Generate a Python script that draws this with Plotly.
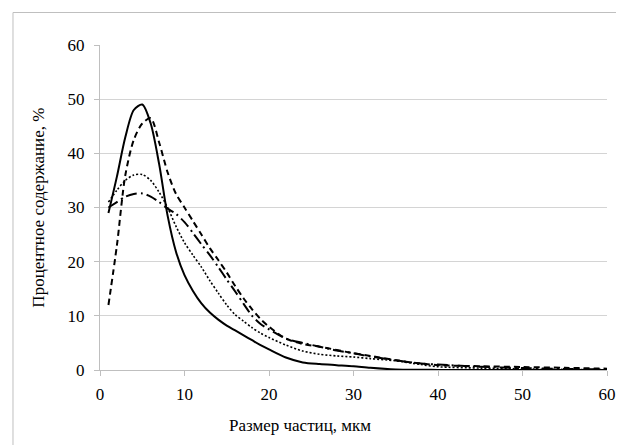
import plotly.graph_objects as go

# particle size, um
size_um = [1, 2, 3, 4, 5, 6, 7, 8, 9, 10, 11, 12, 13, 14, 15, 16, 17, 18, 19, 20,
           22, 24, 26, 28, 30, 32, 35, 38, 40, 45, 50, 55, 60]

solid_pct = [29, 35.7, 43, 48, 49, 45.5, 38, 28.5, 21.8, 17.5, 14.6, 12.3, 10.6, 9.3, 8.2, 7.3,
             6.4, 5.5, 4.6, 3.8, 2.3, 1.4, 1.1, 0.9, 0.7, 0.4, 0.1, 0.05, 0.02, 0, 0, 0, 0]

dashed_pct = [12, 23, 36, 42.5, 45.5, 46.5, 42, 36.5, 32.5, 30, 27.5, 25, 22.5, 20.3, 18, 15.5,
              13.2, 11.2, 9.4, 8.0, 5.8, 4.8, 4.3, 3.7, 3.1, 2.6, 1.8, 1.2, 0.9, 0.7, 0.55, 0.4, 0.25]

dotted_pct = [31, 33.2, 35, 36, 36.1, 35, 32.8, 30, 26.5, 23.5, 21.2, 19, 16.5, 14.2, 12, 10.2,
              9.0, 7.8, 6.8, 6.0, 4.6, 3.5, 2.9, 2.6, 2.4, 2.1, 1.7, 1.0, 0.6, 0.35, 0.2, 0.1, 0.05]

dashdot_pct = [30, 31, 32, 32.5, 32.6, 32, 31, 29.8, 28.8, 27.3, 25.3, 23.2, 21.2, 19, 16.7, 14.5,
               12.2, 10, 8.5, 7.5, 5.8, 5.0, 4.3, 3.6, 3.1, 2.5, 1.8, 1.2, 1.0, 0.6, 0.35, 0.2, 0.1]

y_ticks = [0, 10, 20, 30, 40, 50, 60]
x_ticks = [0, 10, 20, 30, 40, 50, 60]
x_title = "Размер частиц, мкм"
y_title = "Процентное содержание, %"

FONT = "Liberation Serif"

fig = go.Figure()
series = [
    (solid_pct, "solid", 2.0),
    (dashed_pct, "6px,4px", 2.0),
    (dotted_pct, "2px,2px", 1.6),
    (dashdot_pct, "11px,4px,2px,4px", 2.0),
]
for vals, dash, w in series:
    fig.add_trace(go.Scatter(
        x=size_um, y=vals, mode="lines",
        line=dict(color="black", width=w, dash=dash, shape="spline", smoothing=0.8),
        showlegend=False, hoverinfo="skip",
    ))

fig.update_layout(
    width=624, height=445,
    margin=dict(l=92, r=25, t=37, b=83),
    paper_bgcolor="white", plot_bgcolor="white",
    font=dict(family=FONT, size=17, color="black"),
    xaxis=dict(range=[0, 60], tickvals=x_ticks, showgrid=False, zeroline=False,
               showline=True, linecolor="#bfbfbf", linewidth=1,
               ticks="outside", ticklen=5, tickcolor="#bfbfbf",
               tickfont=dict(family=FONT, size=17, color="black"), ticklabelstandoff=4),
    yaxis=dict(range=[0, 60], tickvals=y_ticks, showgrid=True, gridcolor="#d4d4d4", gridwidth=1,
               zeroline=False, showline=True, linecolor="#bfbfbf", linewidth=1,
               ticks="outside", ticklen=5, tickcolor="#bfbfbf",
               tickfont=dict(family=FONT, size=17, color="black"), ticklabelstandoff=6),
    annotations=[
        dict(text=x_title, xref="paper", yref="paper", x=0.394, y=-0.171,
             xanchor="center", yanchor="middle", showarrow=False,
             font=dict(family=FONT, size=17, color="black")),
        dict(text=y_title, xref="paper", yref="paper", x=-0.122, y=0.5, textangle=-90,
             xanchor="center", yanchor="middle", showarrow=False,
             font=dict(family=FONT, size=17, color="black")),
    ],
    shapes=[
        dict(type="rect", xref="paper", yref="paper", x0=-0.1716, y0=-0.35, x1=1.2, y1=1.1,
             line=dict(color="#bfbfbf", width=1), fillcolor="rgba(0,0,0,0)", layer="above"),
    ],
)

fig.write_html("out.html")
